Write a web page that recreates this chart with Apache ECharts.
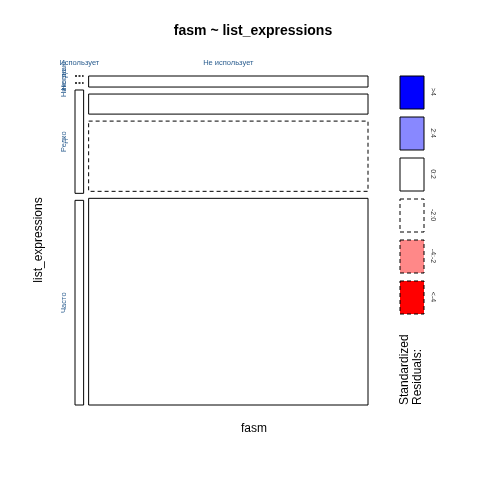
<!DOCTYPE html>
<html><head><meta charset="utf-8">
<script src="https://cdn.jsdelivr.net/npm/echarts@6/dist/echarts.min.js"></script>
<style>body{margin:0;background:#fff}#c{width:480px;height:480px}</style>
</head><body><div id="c"></div>
<script>
// columns (fasm) and rows (list_expressions)
var cols = ['Использует', 'Не использует'];
var rows = ['Не знаю', 'Никогда', 'Редко', 'Часто'];
var colTotals = [9, 291];
// row counts inside each column
var cellCounts = [[0, 0, 104, 206], [11, 20, 70, 206]];
// residual style per cell
var cellStyle = [['dot', 'dot', 'solid', 'solid'], ['solid', 'solid', 'dashed', 'solid']];
var legendLabels = ['>4', '2:4', '0:2', '-2:0', '-4:-2', '<-4'];
var legendFill = ['#0000ff', '#8888ff', '#ffffff', '#ffffff', '#ff8888', '#ff0000'];
var legendDash = [false, false, false, true, true, true];

var gx = 5 / 293, gy = 7 / 329;
var tot = colTotals[0] + colTotals[1];
var cells = [];
var x = 0;
for (var i = 0; i < cols.length; i++) {
  var w = (1 - gx) * colTotals[i] / tot;
  var rs = cellCounts[i].reduce(function (a, b) { return a + b; }, 0);
  var y = 1;
  for (var j = 0; j < rows.length; j++) {
    var h = (1 - 3 * gy) * cellCounts[i][j] / rs;
    cells.push([x, x + w, y - h, y, cellStyle[i][j], i, j]);
    y -= h + gy;
  }
  x += w + gx;
}

var chart = echarts.init(document.getElementById('c'));
chart.setOption({
  animation: false,
  grid: {left: 75, top: 76, width: 293, height: 329},
  xAxis: {type: 'value', min: 0, max: 1, show: false},
  yAxis: {type: 'value', min: 0, max: 1, show: false},
  series: [{
    type: 'custom',
    data: cells,
    renderItem: function (p, api) {
      var a = api.coord([api.value(0), api.value(3)]);
      var b = api.coord([api.value(1), api.value(2)]);
      var st = cells[p.dataIndex][4];
      if (st === 'dot') {
        return {type: 'line', shape: {x1: a[0], y1: a[1], x2: b[0], y2: a[1]},
          style: {stroke: '#000', lineWidth: 1.5, lineDash: [2, 1.5]}};
      }
      return {type: 'rect', shape: {x: a[0], y: a[1], width: b[0] - a[0], height: b[1] - a[1]},
        style: {fill: '#fff', stroke: '#000', lineWidth: 1, lineDash: st === 'dashed' ? [4, 3] : null}};
    }
  }]
});

var g = [
  {type: 'text', x: 253, y: 24, style: {text: 'fasm ~ list_expressions', font: 'bold 14px Liberation Sans', fill: '#000', textAlign: 'center'}},
  {type: 'text', x: 254, y: 423, style: {text: 'fasm', font: '12px Liberation Sans', fill: '#000', textAlign: 'center'}},
  {type: 'text', x: 33, y: 240, rotation: Math.PI / 2, style: {text: 'list_expressions', font: '12px Liberation Sans', fill: '#000', textAlign: 'center'}},
  {type: 'text', x: 398, y: 405, rotation: Math.PI / 2, style: {text: 'Standardized\nResiduals:', font: '12px Liberation Sans', fill: '#000', textAlign: 'left', lineHeight: 13}}
];
// column labels
cells.forEach(function (c) {
  if (c[6] !== 0) return;
  var px = chart.convertToPixel({gridIndex: 0}, [(c[0] + c[1]) / 2, 1]);
  g.push({type: 'text', x: px[0], y: 59, style: {text: cols[c[5]], font: '7.5px Liberation Sans', fill: '#2a5d8f', textAlign: 'center'}});
});
// row labels from first column
cells.forEach(function (c) {
  if (c[5] !== 0) return;
  var px = chart.convertToPixel({gridIndex: 0}, [0, (c[2] + c[3]) / 2]);
  g.push({type: 'text', x: 64, y: px[1], rotation: Math.PI / 2, style: {text: rows[c[6]], font: '7.5px Liberation Sans', fill: '#2a5d8f', textAlign: 'center', textVerticalAlign: 'middle'}});
});
legendLabels.forEach(function (l, k) {
  var y0 = 76 + k * 41;
  g.push({type: 'rect', shape: {x: 400, y: y0, width: 24, height: 33},
    style: {fill: legendFill[k], stroke: '#000', lineWidth: 1, lineDash: legendDash[k] ? [4, 3] : null}});
  g.push({type: 'text', x: 433, y: y0 + 16, rotation: -Math.PI / 2, style: {text: l, font: '7px Liberation Sans', fill: '#333', textAlign: 'center', textVerticalAlign: 'middle'}});
});
chart.setOption({graphic: g});
</script></body></html>
